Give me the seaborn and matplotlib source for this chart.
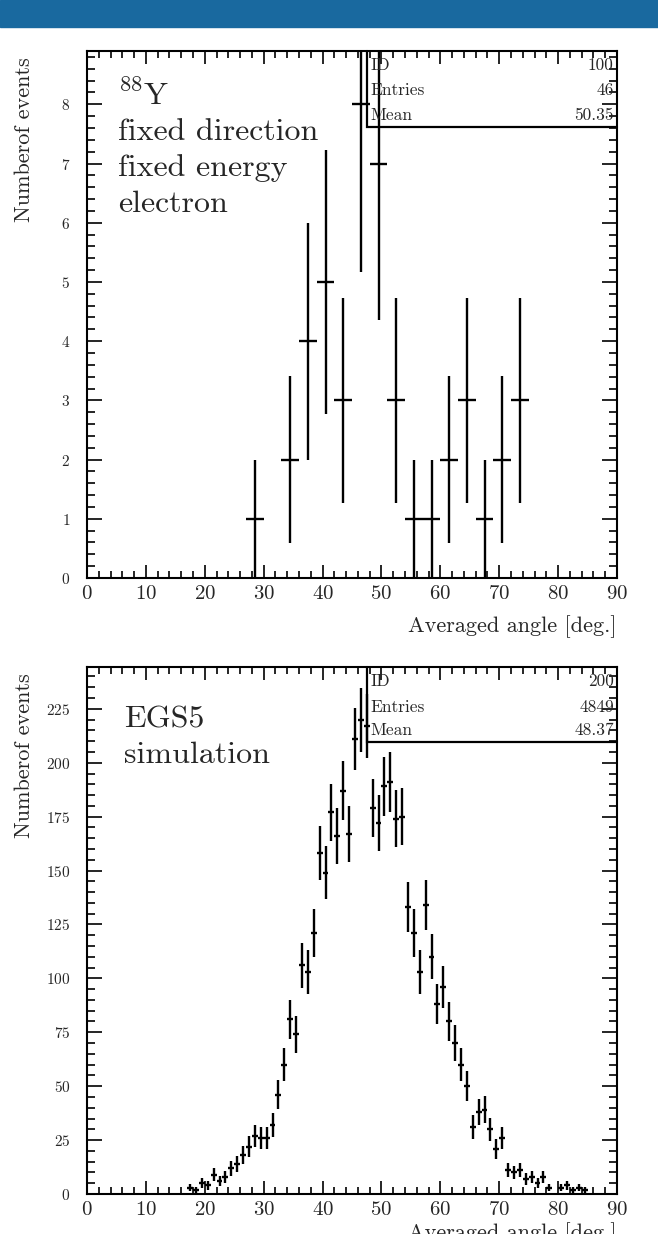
#%% libraries
import numpy as np
import pandas as pd
import seaborn as sb
import matplotlib.pyplot as plt
from matplotlib.patches import Rectangle
from matplotlib.ticker import MultipleLocator

#%% data: counts per bin (errors are sqrt(N))
# measured 88Y, 3 degree bins
meas_centers = [28.5, 34.5, 37.5, 40.5, 43.5, 46.5, 49.5, 52.5,
                55.5, 58.5, 61.5, 64.5, 67.5, 70.5, 73.5]
meas_counts = [1, 2, 4, 5, 3, 8, 7, 3, 1, 1, 2, 3, 1, 2, 3]
meas_halfwidth = 1.5

# EGS5 simulation, 1 degree bins
sim_centers = [17.5, 18.5, 19.5, 20.5, 21.5, 22.5, 23.5, 24.5, 25.5, 26.5,
               27.5, 28.5, 29.5, 30.5, 31.5, 32.5, 33.5, 34.5, 35.5, 36.5,
               37.5, 38.5, 39.5, 40.5, 41.5, 42.5, 43.5, 44.5, 45.5, 46.5,
               47.5, 48.5, 49.5, 50.5, 51.5, 52.5, 53.5, 54.5, 55.5, 56.5,
               57.5, 58.5, 59.5, 60.5, 61.5, 62.5, 63.5, 64.5, 65.5, 66.5,
               67.5, 68.5, 69.5, 70.5, 71.5, 72.5, 73.5, 74.5, 75.5, 76.5,
               77.5, 78.5, 80.5, 81.5, 82.5, 83.5, 84.5]
sim_counts = [3, 2, 5, 4, 9, 6, 8, 12, 14, 18,
              22, 27, 26, 26, 32, 46, 60, 81, 74, 106,
              103, 121, 158, 149, 177, 166, 187, 167, 211, 220,
              217, 179, 172, 189, 191, 174, 175, 133, 121, 103,
              134, 110, 88, 96, 80, 70, 60, 50, 31, 38,
              39, 30, 21, 26, 11, 10, 11, 7, 8, 5,
              8, 3, 3, 4, 2, 3, 2]
sim_halfwidth = 0.5

meas_text = [r'$^{88}$Y', 'fixed direction', 'fixed energy', 'electron']
sim_text = ['EGS5', 'simulation']
meas_stats = [('ID', '100'), ('Entries', '46'), ('Mean', '50.35')]
sim_stats = [('ID', '200'), ('Entries', '4849'), ('Mean', '48.37')]

df_meas = pd.DataFrame({'angle': meas_centers, 'counts': meas_counts})
df_sim = pd.DataFrame({'angle': sim_centers, 'counts': sim_counts})

#%% style
sb.set_theme(style='ticks')
plt.rcParams['font.family'] = ['cmr10', 'DejaVu Serif']
plt.rcParams['mathtext.fontset'] = 'cm'
plt.rcParams['axes.formatter.use_mathtext'] = True
plt.rcParams['axes.linewidth'] = 1.5

W, H = 658, 1234
fig = plt.figure(figsize=(W / 100, H / 100), dpi=100)
fig.patch.set_facecolor('white')
fig.patches.append(Rectangle((0, 1 - 27 / H), 1, 27 / H, transform=fig.transFigure,
                             color='#19699f', zorder=0))

ax1 = fig.add_axes([87 / W, 1 - 578 / H, 530 / W, 527 / H])
ax2 = fig.add_axes([87 / W, 1 - 1194 / H, 530 / W, 527 / H])


def draw_hist(ax, df, halfwidth, ymax, ymajor, yminor):
    ax.errorbar(df['angle'], df['counts'], xerr=halfwidth, yerr=np.sqrt(df['counts']),
                fmt='none', ecolor='black', elinewidth=1.7, capsize=0)
    sb.scatterplot(data=df, x='angle', y='counts', ax=ax, marker='s', s=3,
                   color='black', linewidth=0, legend=False)
    ax.set_xlim(0, 90)
    ax.set_ylim(0, ymax)
    ax.xaxis.set_major_locator(MultipleLocator(10))
    ax.xaxis.set_minor_locator(MultipleLocator(2))
    ax.yaxis.set_major_locator(MultipleLocator(ymajor))
    ax.yaxis.set_minor_locator(MultipleLocator(yminor))
    ax.tick_params(axis='both', which='both', direction='in', top=True, right=True,
                   color='black', width=1.2)
    ax.tick_params(axis='x', which='major', length=9.5, labelsize=15, pad=5)
    ax.tick_params(axis='x', which='minor', length=5)
    ax.tick_params(axis='y', which='major', length=10.5, labelsize=11, pad=12)
    ax.tick_params(axis='y', which='minor', length=5.8)
    for s in ax.spines.values():
        s.set_color('black')
    ax.set_ylabel('Numberof events', fontsize=16, loc='top')
    ax.yaxis.set_label_coords(-0.100, 0.989)
    ax.set_xlabel('Averaged angle [deg.]', fontsize=16, loc='right')


def stats_box(ax, rows, left, bottom, ys):
    ax.plot([left, left, 1.0], [1.0, bottom, bottom], transform=ax.transAxes,
            color='black', lw=1.6, clip_on=False, solid_joinstyle='miter')
    for (name, val), y in zip(rows, ys):
        ax.text(left + 0.006, y, name, transform=ax.transAxes, fontsize=12.5,
                va='center', ha='left')
        ax.text(0.994, y, val, transform=ax.transAxes, fontsize=12.5,
                va='center', ha='right')


#%% top: measurement
draw_hist(ax1, df_meas, meas_halfwidth, 8.9, 1, 0.2)
ax1.xaxis.set_label_coords(1.0, -0.070)
stats_box(ax1, meas_stats, 0.528, 0.855, [0.973, 0.925, 0.878])
for i, line in enumerate(meas_text):
    ax1.text(0.0585, (578 - 105 - 35.5 * i) / 527, line, transform=ax1.transAxes,
             fontsize=23, va='baseline', ha='left')

#%% bottom: simulation
draw_hist(ax2, df_sim, sim_halfwidth, 244.4, 25, 5)
ax2.xaxis.set_label_coords(1.0, -0.053)
stats_box(ax2, sim_stats, 0.528, 0.858, [0.972, 0.924, 0.880])
for i, line in enumerate(sim_text):
    ax2.text(0.070, (1194 - 727 - 36 * i) / 527, line, transform=ax2.transAxes,
             fontsize=23, va='baseline', ha='left')

fig.savefig('out.png', dpi=100, facecolor='white')
